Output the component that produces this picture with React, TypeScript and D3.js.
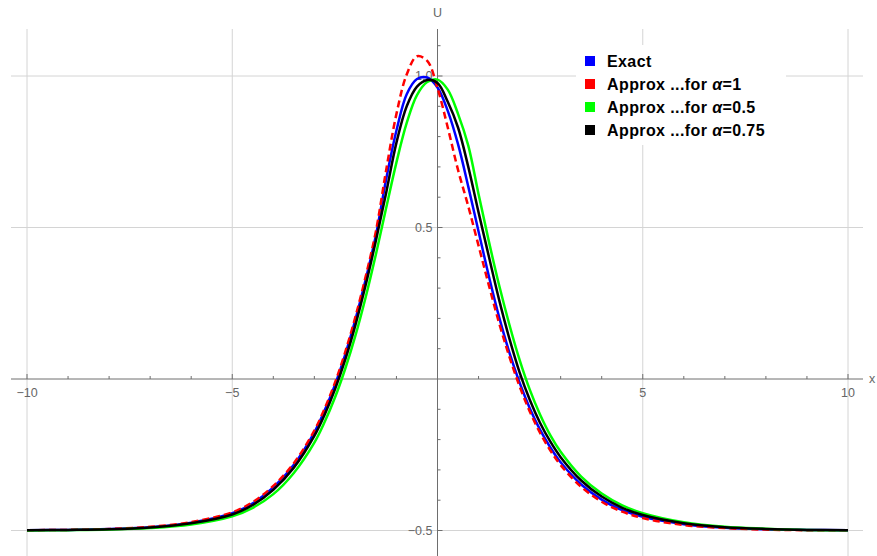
import * as d3 from 'd3';
import { useEffect, useRef } from 'react';

// x positions where each curve was read
const xs = [
  -10, -9, -8, -7, -6, -5, -4.5, -4, -3.5, -3, -2.75, -2.5, -2.25, -2, -1.75, -1.5, -1.25, -1, -0.75, -0.5,
  -0.25, 0, 0.25, 0.5, 0.75, 1, 1.25, 1.5, 1.75, 2, 2.25, 2.5, 2.75, 3, 3.5, 4, 4.5, 5, 6, 7, 8, 9, 10,
];

const exact = [
  -0.499, -0.498, -0.495, -0.489, -0.474, -0.443, -0.41, -0.358, -0.283, -0.176, -0.104, -0.02, 0.08, 0.196,
  0.328, 0.474, 0.66, 0.82, 0.94, 0.99, 0.995, 0.962, 0.885, 0.775, 0.635, 0.487, 0.34, 0.205, 0.088, -0.012,
  -0.097, -0.168, -0.226, -0.275, -0.348, -0.398, -0.433, -0.455, -0.479, -0.491, -0.496, -0.498, -0.499,
];

const approx1 = [
  -0.499, -0.498, -0.495, -0.488, -0.472, -0.44, -0.406, -0.353, -0.278, -0.17, -0.098, -0.013, 0.088, 0.205,
  0.338, 0.488, 0.69, 0.875, 1.005, 1.065, 1.05, 0.96, 0.83, 0.69, 0.57, 0.44, 0.31, 0.185, 0.074, -0.024,
  -0.108, -0.178, -0.236, -0.284, -0.356, -0.405, -0.438, -0.459, -0.482, -0.492, -0.497, -0.499, -0.499,
];

const approx05 = [
  -0.5, -0.499, -0.497, -0.492, -0.48, -0.453, -0.425, -0.38, -0.31, -0.21, -0.142, -0.062, 0.033, 0.143, 0.27,
  0.412, 0.565, 0.715, 0.845, 0.937, 0.98, 0.988, 0.955, 0.875, 0.77, 0.61, 0.455, 0.31, 0.18, 0.063, -0.036,
  -0.118, -0.186, -0.24, -0.322, -0.378, -0.417, -0.443, -0.473, -0.488, -0.494, -0.498, -0.499,
];

const approx075 = [
  -0.499, -0.498, -0.496, -0.49, -0.476, -0.447, -0.416, -0.366, -0.293, -0.188, -0.118, -0.035, 0.063, 0.178,
  0.31, 0.457, 0.615, 0.78, 0.9, 0.965, 0.987, 0.977, 0.915, 0.83, 0.7, 0.55, 0.405, 0.262, 0.134, 0.022,
  -0.069, -0.145, -0.207, -0.258, -0.335, -0.388, -0.425, -0.449, -0.476, -0.489, -0.495, -0.498, -0.499,
];

const xTicks = [-10, -5, 5, 10];
const xTickLabels = ['\u221210', '\u22125', '5', '10'];
const yTicks = [-0.5, 0.5, 1];
const yTickLabels = ['\u22120.5', '0.5', '1.0'];

const series = [
  { name: 'Exact', alpha: '', values: exact, color: '#0000ff', dash: '' },
  { name: 'Approx ...for ', alpha: '=1', values: approx1, color: '#ff0000', dash: '7,4' },
  { name: 'Approx ...for ', alpha: '=0.5', values: approx05, color: '#00ff00', dash: '' },
  { name: 'Approx ...for ', alpha: '=0.75', values: approx075, color: '#000000', dash: '' },
];

const App = (): React.ReactElement => {
  const ref: any = useRef();
  const width = 877;
  const height = 556;

  useEffect(() => {
    const svg = d3.select(ref.current).attr('width', width).attr('height', height);
    svg.selectAll('*').remove();

    const xScale = d3.scaleLinear().domain([-10, 10]).range([27, 848]);
    const yScale = d3.scaleLinear().domain([-0.5, 1]).range([530.5, 76]);
    const x0 = xScale(0);
    const y0 = yScale(0);
    const left = 11;
    const right = 863;
    const top = 29;

    // grid
    const grid = svg.append('g').attr('stroke', '#d4d4d4').attr('stroke-width', 1);
    xTicks.forEach((t) => {
      grid
        .append('line')
        .attr('x1', xScale(t))
        .attr('x2', xScale(t))
        .attr('y1', top)
        .attr('y2', height);
    });
    yTicks.forEach((t) => {
      grid.append('line').attr('x1', left).attr('x2', right).attr('y1', yScale(t)).attr('y2', yScale(t));
    });

    // axes
    const axes = svg.append('g').attr('stroke', '#6e6e6e').attr('stroke-width', 1);
    axes.append('line').attr('x1', left).attr('x2', right).attr('y1', y0).attr('y2', y0);
    axes.append('line').attr('x1', x0).attr('x2', x0).attr('y1', top).attr('y2', height);

    d3.range(-10, 11).forEach((t) => {
      if (t === 0) return;
      const len = t % 5 === 0 ? 5 : 3;
      axes
        .append('line')
        .attr('x1', xScale(t))
        .attr('x2', xScale(t))
        .attr('y1', y0)
        .attr('y2', y0 - len);
    });
    d3.range(-5, 12).forEach((i) => {
      if (i === 0) return;
      const len = i % 5 === 0 ? 5 : 3;
      const t = i / 10;
      axes
        .append('line')
        .attr('x1', x0)
        .attr('x2', x0 + len)
        .attr('y1', yScale(t))
        .attr('y2', yScale(t));
    });

    const labels = svg
      .append('g')
      .attr('font-family', 'Liberation Sans, Arial, sans-serif')
      .attr('font-size', 12.5)
      .attr('fill', '#666666');
    xTicks.forEach((t, i) => {
      labels
        .append('text')
        .attr('x', xScale(t))
        .attr('y', y0 + 18)
        .attr('text-anchor', 'middle')
        .text(xTickLabels[i]);
    });
    yTicks.forEach((t, i) => {
      labels
        .append('text')
        .attr('x', x0 - 5)
        .attr('y', yScale(t))
        .attr('dy', '0.35em')
        .attr('text-anchor', 'end')
        .text(yTickLabels[i]);
    });
    labels.append('text').attr('x', x0).attr('y', 17).attr('text-anchor', 'middle').text('U');
    labels.append('text').attr('x', 869).attr('y', y0 + 4).text('x');

    // curves
    const line = d3
      .line<number>()
      .x((_, i) => xScale(xs[i]))
      .y((d) => yScale(d))
      .curve(d3.curveCatmullRom.alpha(0.5));

    series.forEach((s) => {
      svg
        .append('path')
        .datum(s.values)
        .attr('d', line)
        .attr('fill', 'none')
        .attr('stroke', s.color)
        .attr('stroke-width', 2.5)
        .attr('stroke-dasharray', s.dash || null);
    });

    // legend
    const legend = svg.append('g');
    legend.append('rect').attr('x', 576).attr('y', 45).attr('width', 210).attr('height', 100).attr('fill', '#ffffff');
    series.forEach((s, i) => {
      const cy = 61 + i * 23;
      legend
        .append('rect')
        .attr('x', 585)
        .attr('y', cy - 5)
        .attr('width', 10)
        .attr('height', 10)
        .attr('fill', s.color);
      const text = legend
        .append('text')
        .attr('x', 607)
        .attr('y', cy)
        .attr('dy', '0.36em')
        .attr('font-family', 'Liberation Sans, Arial, sans-serif')
        .attr('font-size', 16)
        .attr('font-weight', 'bold')
        .attr('letter-spacing', 0.4)
        .attr('fill', '#000000');
      text.append('tspan').text(s.name);
      if (s.alpha) {
        text.append('tspan').attr('font-style', 'italic').text('\u03b1');
        text.append('tspan').text(s.alpha);
      }
    });
  }, []);

  return <svg ref={ref} style={{ position: 'absolute', left: 0, top: 0, background: '#ffffff' }} />;
};

export default App;
